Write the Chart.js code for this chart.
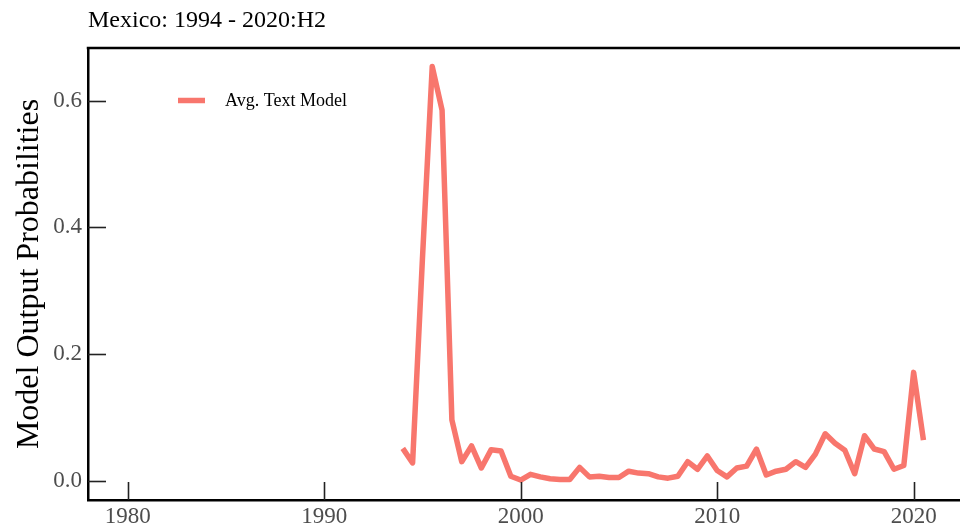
<!DOCTYPE html>
<html>
<head>
<meta charset="utf-8">
<script src="https://cdn.jsdelivr.net/npm/chart.js@4/dist/chart.umd.min.js"></script>
<style>
	html, body { margin: 0; padding: 0; background: #fff; }
	#wrap { width: 960px; height: 524px; position: relative; }
</style>
</head>
<body>
<div id="wrap"><canvas id="chart"></canvas></div>
<script>
const TITLE = 'Mexico: 1994 - 2020:H2';
const SERIES_LABEL = 'Avg. Text Model';

// half-year periods (H1 = .0, H2 = .5)
const periods = [
	1994.0, 1994.5, 1995.0, 1995.5, 1996.0, 1996.5, 1997.0, 1997.5, 1998.0, 1998.5,
	1999.0, 1999.5, 2000.0, 2000.5, 2001.0, 2001.5, 2002.0, 2002.5, 2003.0, 2003.5,
	2004.0, 2004.5, 2005.0, 2005.5, 2006.0, 2006.5, 2007.0, 2007.5, 2008.0, 2008.5,
	2009.0, 2009.5, 2010.0, 2010.5, 2011.0, 2011.5, 2012.0, 2012.5, 2013.0, 2013.5,
	2014.0, 2014.5, 2015.0, 2015.5, 2016.0, 2016.5, 2017.0, 2017.5, 2018.0, 2018.5,
	2019.0, 2019.5, 2020.0, 2020.5
];

const probs = [
	0.051, 0.028, 0.350, 0.654, 0.585, 0.096, 0.030, 0.055, 0.020, 0.049,
	0.047, 0.007, 0.001, 0.010, 0.006, 0.003, 0.002, 0.002, 0.021, 0.006,
	0.007, 0.005, 0.005, 0.015, 0.012, 0.011, 0.006, 0.004, 0.007, 0.030,
	0.018, 0.039, 0.016, 0.006, 0.020, 0.023, 0.050, 0.009, 0.015, 0.018,
	0.030, 0.021, 0.042, 0.074, 0.059, 0.048, 0.011, 0.071, 0.050, 0.046,
	0.018, 0.024, 0.171, 0.064
];

const xTicks = [1980, 1990, 2000, 2010, 2020];
const yTicks = [0.0, 0.2, 0.4, 0.6];

const LINE_COLOR = 'rgb(248,118,109)';
const SERIF = '"Liberation Serif", "DejaVu Serif", serif';

//title, top frame line, inward tick marks and the in-plot legend
const decorations = {
	id: 'decorations',
	afterDraw(chart) {
		const {ctx, chartArea: area, scales} = chart;
		ctx.save();

		ctx.fillStyle = '#000';
		ctx.font = `24px ${SERIF}`;
		ctx.textBaseline = 'alphabetic';
		ctx.textAlign = 'left';
		ctx.fillText(TITLE, area.left, 27);

		ctx.strokeStyle = '#000';
		ctx.lineWidth = 2.5;
		ctx.beginPath();
		ctx.moveTo(area.left - 1.25, area.top);
		ctx.lineTo(area.right, area.top);
		ctx.stroke();

		ctx.strokeStyle = '#222';
		ctx.lineWidth = 1.6;
		scales.y.ticks.map(t => {
			let py = Math.round(scales.y.getPixelForValue(t.value)) + 0.5;
			ctx.beginPath();
			ctx.moveTo(area.left, py);
			ctx.lineTo(area.left + 18, py);
			ctx.stroke();
		});
		scales.x.ticks.map(t => {
			let px = Math.round(scales.x.getPixelForValue(t.value)) + 0.5;
			ctx.beginPath();
			ctx.moveTo(px, area.bottom);
			ctx.lineTo(px, area.bottom - 18);
			ctx.stroke();
		});

		let ds = chart.data.datasets[0];
		ctx.strokeStyle = ds.borderColor;
		ctx.lineWidth = 5.5;
		ctx.beginPath();
		ctx.moveTo(178, 100.5);
		ctx.lineTo(205, 100.5);
		ctx.stroke();
		ctx.fillStyle = '#000';
		ctx.font = `18px ${SERIF}`;
		ctx.textBaseline = 'middle';
		ctx.fillText(ds.label, 225, 101);

		ctx.restore();
	}
};

const ctx = document.querySelector('#chart').getContext('2d');

new Chart(ctx, {
	type: 'line',
	data: {
		datasets: [{
			label: SERIES_LABEL,
			data: periods.map((p, i) => ({x: p, y: probs[i]})),
			borderColor: LINE_COLOR,
			backgroundColor: LINE_COLOR,
			borderWidth: 5.5,
			borderJoinStyle: 'round',
			borderCapStyle: 'butt',
			pointRadius: 0,
			tension: 0,
			fill: false
		}]
	},
	options: {
		responsive: true,
		maintainAspectRatio: false,
		animation: false,
		layout: {padding: {top: 48, right: 0, bottom: 0, left: 0}},
		plugins: {
			legend: {display: false},
			title: {display: false},
			tooltip: {enabled: false}
		},
		scales: {
			x: {
				type: 'linear',
				min: 1977.98,
				max: 2022.36,
				afterBuildTicks: scale => { scale.ticks = xTicks.map(v => ({value: v})); },
				afterFit: scale => { scale.height = 24; },
				grid: {display: false, drawTicks: false},
				border: {display: true, color: '#000', width: 2.5},
				ticks: {
					padding: 3,
					color: '#4d4d4d',
					font: {family: SERIF, size: 23},
					maxRotation: 0,
					autoSkip: false,
					callback: v => String(v)
				}
			},
			y: {
				min: -0.0305,
				max: 0.6832,
				afterBuildTicks: scale => { scale.ticks = yTicks.map(v => ({value: v})); },
				afterFit: scale => { scale.width = 88; },
				grid: {display: false, drawTicks: false},
				border: {display: true, color: '#000', width: 2.5},
				title: {
					display: true,
					text: 'Model Output Probabilities',
					color: '#000',
					font: {family: SERIF, size: 32},
					padding: {top: 10, bottom: 0}
				},
				ticks: {
					padding: 6,
					color: '#4d4d4d',
					font: {family: SERIF, size: 23},
					callback: v => Number(v).toFixed(1)
				}
			}
		}
	},
	plugins: [decorations]
});
</script>
</body>
</html>
